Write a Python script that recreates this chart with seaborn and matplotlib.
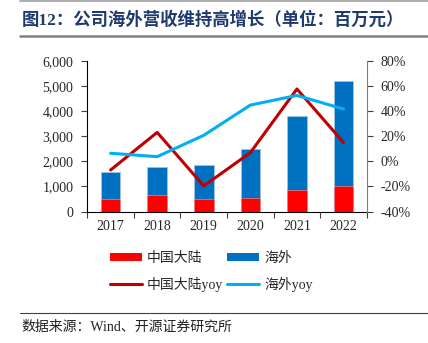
import numpy as np
import matplotlib
matplotlib.use("Agg")
import matplotlib.pyplot as plt
from matplotlib.patches import Patch
from matplotlib.lines import Line2D
from matplotlib.ticker import FuncFormatter, FixedLocator
import seaborn as sns

# Revenue by region (million CNY) and year-over-year growth (%)
years = ["2017", "2018", "2019", "2020", "2021", "2022"]
mainland = [520, 650, 505, 556, 874, 1009]
overseas = [1060, 1114, 1338, 1934, 2940, 4171]
mainland_yoy = [-6.9, 23.0, -19.6, 6.9, 57.5, 15.0]
overseas_yoy = [6.4, 3.7, 20.7, 44.7, 52.4, 41.6]

labels = ["中国大陆", "海外", "中国大陆yoy", "海外yoy"]
title = "图12：公司海外营收维持高增长（单位：百万元）"
source = "数据来源：Wind、开源证券研究所"

C_MAIN = "#FF0000"
C_OVER = "#0070C0"
C_MAIN_L = "#C00000"
C_OVER_L = "#00B0F0"

sns.set_theme(style="white")
plt.rcParams["font.family"] = ["Liberation Serif", "Noto Sans CJK SC"]
plt.rcParams["axes.unicode_minus"] = False

fig = plt.figure(figsize=(4.28, 3.43), dpi=100)
ax = fig.add_axes([0.204, 0.383, 0.653, 0.440])

total = [m + o for m, o in zip(mainland, overseas)]
pos = np.arange(len(years))

# stacked bars: total (overseas on top) then mainland at the base
sns.barplot(x=pos, y=total, color=C_OVER, width=0.42, saturation=1,
            edgecolor="#9DC3E6", linewidth=0.6, ax=ax, native_scale=True)
sns.barplot(x=pos, y=mainland, color=C_MAIN, width=0.42, saturation=1,
            edgecolor="#FF9999", linewidth=0.4, ax=ax, native_scale=True)

ax.set_xlim(-0.5, len(years) - 0.5)
ax.set_ylim(0, 6000)
ax.yaxis.set_major_locator(FixedLocator(np.arange(0, 6001, 1000)))
ax.yaxis.set_major_formatter(FuncFormatter(lambda v, p: f"{int(v):,}"))
ax.set_xticks(pos)
ax.set_xticklabels(years)
ax.set_xticks(np.arange(-0.5, len(years), 1), minor=True)
ax.tick_params(axis="x", which="major", length=0, pad=6, labelsize=10)
ax.tick_params(axis="x", which="minor", length=4, direction="out", color="#404040", width=0.8)
ax.tick_params(axis="y", length=4, direction="out", labelsize=10, color="#404040", width=0.8, pad=6)
ax.tick_params(axis="both", bottom=True, left=True)
ax.xaxis.set_tick_params(which="minor", bottom=True)
ax.set_xlabel("")
ax.set_ylabel("")
for s in ["top", "right"]:
    ax.spines[s].set_visible(False)
for s in ["left", "bottom"]:
    ax.spines[s].set_color("#000000")
    ax.spines[s].set_linewidth(0.8)

ax2 = ax.twinx()
sns.lineplot(x=pos, y=mainland_yoy, color=C_MAIN_L, linewidth=2.2, ax=ax2)
sns.lineplot(x=pos, y=overseas_yoy, color=C_OVER_L, linewidth=2.2, ax=ax2)
ax2.set_ylim(-40, 80)
ax2.yaxis.set_major_locator(FixedLocator(np.arange(-40, 81, 20)))
ax2.yaxis.set_major_formatter(FuncFormatter(lambda v, p: f"{int(v)}%"))
ax2.tick_params(axis="y", right=True, length=4, direction="out", labelsize=10,
                color="#404040", width=0.8, pad=6)
ax2.set_ylabel("")
for s in ["top", "left", "bottom"]:
    ax2.spines[s].set_visible(False)
ax2.spines["right"].set_color("#808080")
ax2.spines["right"].set_linewidth(0.8)
ax2.set_xlim(-0.5, len(years) - 0.5)

# legend is filled column by column: bars in row one, lines in row two
handles = [Patch(facecolor=C_MAIN, edgecolor="none"),
           Line2D([], [], color=C_MAIN_L, lw=2.2),
           Patch(facecolor=C_OVER, edgecolor="none"),
           Line2D([], [], color=C_OVER_L, lw=2.2)]
leg_labels = [labels[0], labels[2], labels[1], labels[3]]
fig.legend(handles, leg_labels, ncol=2, loc="upper left", bbox_to_anchor=(0.257, 0.265),
           frameon=False, fontsize=10, handlelength=2.3, handleheight=0.55,
           handletextpad=0.35, columnspacing=0.3, labelspacing=0.85,
           borderaxespad=0, borderpad=0)

# header and footer
fig.add_artist(Line2D([0.047, 1.0], [0.998, 0.998], color="#A0A0A0", lw=1.2))
fig.text(0.051, 0.942, title, fontsize=12.5, fontweight="bold", color="#1F3A6E",
         family=["Liberation Serif", "Noto Sans CJK SC"], va="center", ha="left")
fig.add_artist(Line2D([0.047, 1.0], [0.896, 0.896], color="#808080", lw=1.8))
fig.add_artist(Line2D([0.047, 1.0], [0.088, 0.088], color="#404040", lw=0.8))
fig.text(0.051, 0.047, source, fontsize=10, color="#222222", va="center", ha="left")

fig.savefig("out.png", dpi=100)
